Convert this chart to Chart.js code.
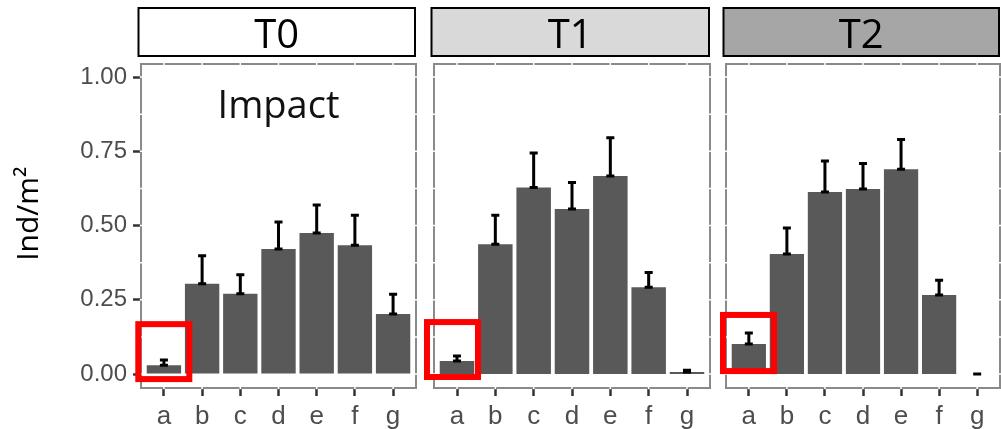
<!DOCTYPE html>
<html><head><meta charset="utf-8">
<script src="https://cdn.jsdelivr.net/npm/chart.js@4"></script>
<style>
html,body{margin:0;padding:0;background:#fff;}
#wrap{position:relative;width:1001px;height:429px;overflow:hidden;background:#fff;}
canvas{position:absolute;top:0;}
</style></head><body>
<div id="wrap">
<canvas id="c0" width="420" height="429" style="left:0px"></canvas>
<canvas id="c1" width="292" height="429" style="left:422px"></canvas>
<canvas id="c2" width="286" height="429" style="left:715px"></canvas>
</div>
<script>
// ---- data ----
const categories = ['a','b','c','d','e','f','g'];
const panelLabels = ['T0','T1','T2'];
const t0Mean  = [0.030, 0.304, 0.270, 0.421, 0.475, 0.434, 0.202];
const t0Upper = [0.047, 0.398, 0.334, 0.512, 0.569, 0.535, 0.269];
const t1Mean  = [0.044, 0.437, 0.628, 0.556, 0.667, 0.292, 0.007];
const t1Upper = [0.061, 0.535, 0.744, 0.645, 0.796, 0.342, 0.013];
const t2Mean  = [0.101, 0.404, 0.613, 0.623, 0.690, 0.266, 0.000];
const t2Upper = [0.138, 0.492, 0.717, 0.709, 0.790, 0.316, 0.000];
const yTitle = 'Ind/m\u00B2';
const annotationText = 'Impact';

// ---- styles ----
const stripFills = ['#ffffff', '#d9d9d9', '#a6a6a6'];
const highlightBoxes = [
  {x0:-0.671, x1:0.665, y0:-0.017, y1:0.168},
  {x0:-0.783, x1:0.548, y0:-0.010, y1:0.175},
  {x0:-0.679, x1:0.661, y0: 0.010, y1:0.199}
];
const paddings = [
  {top:64, left:0, right:4, bottom:0},
  {top:64, left:12, right:4, bottom:0},
  {top:64, left:11, right:1, bottom:0}
];

Chart.defaults.font.family = "'Liberation Sans', Arial, sans-serif";
Chart.defaults.animation = false;

function decorPlugin(idx, upper, mean) {
  return {
    id: 'decor' + idx,
    beforeDatasetsDraw(chart) {
      const {ctx, chartArea: a, scales: {x, y}} = chart;
      ctx.save();
      ctx.strokeStyle = '#8a8a8a';
      ctx.lineWidth = 2;
      ctx.strokeRect(a.left, a.top, a.right - a.left, a.bottom - a.top);
      ctx.strokeStyle = '#ffffff';
      ctx.lineWidth = 1.5;
      ctx.beginPath();
      categories.forEach((c, i) => {
        const px = x.getPixelForValue(i);
        ctx.moveTo(px, a.top - 1.5); ctx.lineTo(px, a.bottom + 1.2);
      });
      for (let k = 0; k <= 8; k++) {
        const py = y.getPixelForValue(k * 0.125);
        ctx.moveTo(a.left - 1.2, py); ctx.lineTo(a.right + 1.5, py);
      }
      ctx.stroke();
      ctx.restore();
    },
    afterDatasetsDraw(chart) {
      const {ctx, scales: {x, y}} = chart;
      ctx.save();
      ctx.strokeStyle = '#000000';
      ctx.lineWidth = 3;
      ctx.lineCap = 'butt';
      mean.forEach((m, i) => {
        const px = x.getPixelForValue(i);
        const xl = x.getPixelForValue(i - 0.105), xr = x.getPixelForValue(i + 0.105);
        const yt = y.getPixelForValue(upper[i]);
        const yb = y.getPixelForValue(m);
        ctx.beginPath();
        ctx.moveTo(px, yb); ctx.lineTo(px, yt);
        ctx.moveTo(xl, yt); ctx.lineTo(xr, yt);
        ctx.moveTo(xl, yb); ctx.lineTo(xr, yb);
        ctx.stroke();
      });
      ctx.restore();
    },
    afterDraw(chart) {
      const {ctx, chartArea: a, scales: {x, y}} = chart;
      ctx.save();
      // strip
      const sl = a.left - 2.5, sr = a.right - 1, st = 8, sb = 56;
      ctx.fillStyle = stripFills[idx];
      ctx.fillRect(sl, st, sr - sl, sb - st);
      ctx.strokeStyle = '#000';
      ctx.lineWidth = 2;
      ctx.strokeRect(sl, st, sr - sl, sb - st);
      ctx.fillStyle = '#000';
      ctx.font = "40px 'Open Sans'";
      ctx.textAlign = 'center';
      ctx.textBaseline = 'alphabetic';
      ctx.fillText(panelLabels[idx], (sl + sr) / 2, 48);
      if (idx === 0) {
        // annotation
        ctx.font = "38px 'Open Sans'";
        ctx.fillStyle = '#111';
        ctx.fillText(annotationText, (a.left + a.right) / 2, y.getPixelForValue(0.862));
        // y axis title
        ctx.save();
        ctx.translate(38, y.getPixelForValue(0.54));
        ctx.rotate(-Math.PI / 2);
        ctx.font = "30px 'Open Sans'";
        ctx.fillStyle = '#000';
        ctx.textAlign = 'center';
        ctx.textBaseline = 'alphabetic';
        ctx.fillText(yTitle, 0, 0);
        ctx.restore();
      }
      // highlight box
      const b = highlightBoxes[idx];
      ctx.strokeStyle = '#ff0000';
      ctx.lineWidth = 6;
      const bx0 = x.getPixelForValue(b.x0), bx1 = x.getPixelForValue(b.x1);
      const by0 = y.getPixelForValue(b.y1), by1 = y.getPixelForValue(b.y0);
      ctx.strokeRect(bx0, by0, bx1 - bx0, by1 - by0);
      ctx.restore();
    }
  };
}

function makePanel(idx, mean, upper) {
  const showY = idx === 0;
  return new Chart(document.getElementById('c' + idx), {
    type: 'bar',
    data: {
      datasets: [{
        data: mean.map((v, i) => ({x: i, y: v})),
        backgroundColor: '#595959',
        borderWidth: 0,
        barPercentage: 0.9,
        categoryPercentage: 1.0
      }]
    },
    options: {
      responsive: false,
      devicePixelRatio: 1,
      animation: false,
      layout: {padding: paddings[idx]},
      plugins: {legend: {display: false}, tooltip: {enabled: false}},
      scales: {
        x: {
          type: 'linear',
          offset: false,
          min: -0.6, max: 6.6,
          afterFit: s => { s.height = 41; },
          afterBuildTicks: s => { s.ticks = categories.map((c, i) => ({value: i})); },
          border: {display: false},
          grid: {offset: false, drawOnChartArea: false, color: 'rgba(0,0,0,0)', tickColor: '#333333', tickWidth: 2.5, tickLength: 8},
          ticks: {
            stepSize: 1, includeBounds: false, autoSkip: false, maxRotation: 0,
            padding: 5, color: '#4d4d4d', font: {size: 26},
            callback: v => categories[v] !== undefined && Number.isInteger(v) ? categories[v] : ''
          }
        },
        y: {
          display: showY,
          min: -0.047, max: 1.044,
          afterFit: s => { s.width = showY ? 141 : 0; },
          border: {display: false},
          grid: {drawOnChartArea: false, color: 'rgba(0,0,0,0)', tickColor: '#333333', tickWidth: 2.5, tickLength: 8},
          title: {display: false, text: yTitle},
          ticks: {
            stepSize: 0.25, includeBounds: false, padding: 6, color: '#4d4d4d', font: {size: 24},
            callback: v => v.toFixed(2)
          }
        }
      }
    },
    plugins: [decorPlugin(idx, upper, mean)]
  });
}

makePanel(0, t0Mean, t0Upper);
makePanel(1, t1Mean, t1Upper);
makePanel(2, t2Mean, t2Upper);
</script>
</body></html>
